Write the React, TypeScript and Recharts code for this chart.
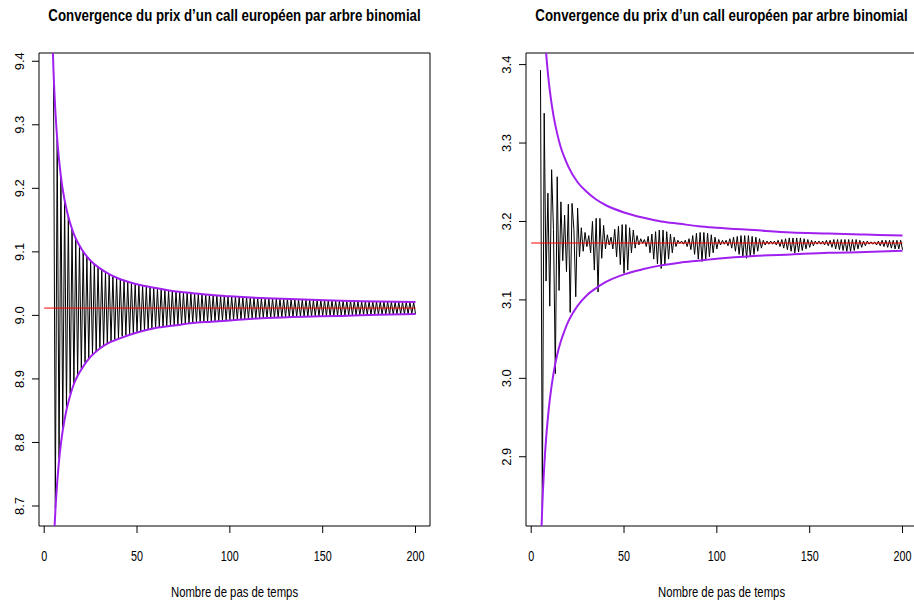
import {
  LineChart,
  Line,
  XAxis,
  YAxis,
  ReferenceArea
} from "recharts";

// N = 5 .. 200 (pas de temps)
const steps = Array.from({ length: 196 }, (_, i) => i + 5);

const leftPrices = [
  9.386, 8.697, 9.278, 8.775, 9.219, 8.823, 9.181, 8.854, 9.155, 8.877,
  9.136, 8.893, 9.121, 8.907, 9.110, 8.917, 9.100, 8.926, 9.093, 8.933,
  9.086, 8.939, 9.081, 8.944, 9.076, 8.949, 9.072, 8.952, 9.068, 8.956,
  9.065, 8.959, 9.062, 8.962, 9.059, 8.964, 9.057, 8.967, 9.055, 8.969,
  9.053, 8.970, 9.051, 8.972, 9.050, 8.974, 9.048, 8.975, 9.047, 8.977,
  9.045, 8.978, 9.044, 8.979, 9.043, 8.980, 9.042, 8.981, 9.041, 8.982,
  9.040, 8.983, 9.039, 8.984, 9.039, 8.985, 9.038, 8.985, 9.037, 8.986,
  9.036, 8.987, 9.036, 8.987, 9.035, 8.988, 9.035, 8.989, 9.034, 8.989,
  9.034, 8.990, 9.033, 8.990, 9.033, 8.991, 9.032, 8.991, 9.032, 8.991,
  9.031, 8.992, 9.031, 8.992, 9.030, 8.993, 9.030, 8.993, 9.030, 8.993,
  9.029, 8.994, 9.029, 8.994, 9.029, 8.994, 9.028, 8.995, 9.028, 8.995,
  9.028, 8.995, 9.027, 8.996, 9.027, 8.996, 9.027, 8.996, 9.027, 8.996,
  9.026, 8.997, 9.026, 8.997, 9.026, 8.997, 9.026, 8.997, 9.026, 8.997,
  9.025, 8.998, 9.025, 8.998, 9.025, 8.998, 9.025, 8.998, 9.025, 8.998,
  9.024, 8.999, 9.024, 8.999, 9.024, 8.999, 9.024, 8.999, 9.024, 8.999,
  9.024, 8.999, 9.023, 9.000, 9.023, 9.000, 9.023, 9.000, 9.023, 9.000,
  9.023, 9.000, 9.023, 9.000, 9.023, 9.000, 9.022, 9.001, 9.022, 9.001,
  9.022, 9.001, 9.022, 9.001, 9.022, 9.001, 9.022, 9.001, 9.022, 9.001,
  9.022, 9.001, 9.022, 9.001, 9.021, 9.002, 9.021, 9.002, 9.021, 9.002,
  9.021, 9.002, 9.021, 9.002, 9.021, 9.002
];

const rightPrices = [
  3.393, 2.834, 3.338, 3.124, 3.236, 3.092, 3.266, 3.190, 3.006, 3.257,
  3.112, 3.225, 3.150, 3.208, 3.136, 3.222, 3.084, 3.223, 3.190, 3.104,
  3.217, 3.155, 3.192, 3.162, 3.186, 3.168, 3.182, 3.160, 3.200, 3.138,
  3.204, 3.110, 3.204, 3.153, 3.195, 3.165, 3.183, 3.170, 3.180, 3.165,
  3.190, 3.155, 3.194, 3.145, 3.196, 3.134, 3.196, 3.138, 3.192, 3.160,
  3.189, 3.166, 3.182, 3.170, 3.178, 3.172, 3.177, 3.168, 3.181, 3.160,
  3.184, 3.152, 3.187, 3.146, 3.189, 3.140, 3.189, 3.145, 3.187, 3.152,
  3.184, 3.160, 3.180, 3.168, 3.176, 3.172, 3.175, 3.171, 3.176, 3.168,
  3.178, 3.164, 3.182, 3.158, 3.185, 3.152, 3.186, 3.149, 3.186, 3.151,
  3.185, 3.155, 3.183, 3.160, 3.180, 3.165, 3.177, 3.170, 3.176, 3.171,
  3.176, 3.169, 3.178, 3.166, 3.180, 3.162, 3.181, 3.158, 3.182, 3.155,
  3.182, 3.153, 3.182, 3.155, 3.181, 3.158, 3.180, 3.162, 3.178, 3.166,
  3.176, 3.170, 3.175, 3.171, 3.175, 3.171, 3.175, 3.170, 3.176, 3.168,
  3.177, 3.166, 3.178, 3.164, 3.179, 3.162, 3.179, 3.160, 3.179, 3.161,
  3.179, 3.163, 3.178, 3.165, 3.177, 3.167, 3.176, 3.169, 3.175, 3.171,
  3.175, 3.171, 3.175, 3.170, 3.176, 3.169, 3.176, 3.167, 3.177, 3.165,
  3.177, 3.164, 3.177, 3.163, 3.177, 3.162, 3.177, 3.162, 3.177, 3.163,
  3.177, 3.165, 3.176, 3.167, 3.175, 3.169, 3.175, 3.171, 3.174, 3.171,
  3.174, 3.170, 3.175, 3.169, 3.176, 3.168, 3.176, 3.167, 3.176, 3.166,
  3.176, 3.165, 3.176, 3.165, 3.176, 3.164
];

// bornes (courbes violettes)
const boundSteps = [
  4, 5, 6, 7, 8, 9, 10, 12, 14, 16, 18, 20, 25, 30,
  35, 40, 50, 60, 70, 80, 90, 100, 120, 140, 160, 180, 200
];

const leftUpper = [
  9.478, 9.385, 9.322, 9.278, 9.245, 9.219, 9.198, 9.167, 9.145, 9.128, 9.115, 9.105, 9.086, 9.074,
  9.065, 9.058, 9.049, 9.043, 9.038, 9.035, 9.032, 9.030, 9.027, 9.025, 9.023, 9.022, 9.021
];

const leftLower = [
  8.532, 8.628, 8.691, 8.737, 8.771, 8.798, 8.819, 8.851, 8.874, 8.892, 8.905, 8.915, 8.935, 8.948,
  8.957, 8.963, 8.973, 8.980, 8.984, 8.988, 8.990, 8.992, 8.996, 8.998, 8.999, 9.001, 9.002
];

const rightUpper = [
  3.660, 3.5625, 3.4975, 3.451, 3.416, 3.389, 3.3675, 3.335, 3.312, 3.294, 3.281, 3.270, 3.250, 3.2375,
  3.228, 3.221, 3.2115, 3.205, 3.200, 3.197, 3.194, 3.192, 3.189, 3.186, 3.1847, 3.1833, 3.182
];

const rightLower = [
  2.6725, 2.7725, 2.839, 2.887, 2.9225, 2.950, 2.9725, 3.006, 3.030, 3.0475, 3.061, 3.0725, 3.0925, 3.106,
  3.115, 3.1225, 3.1325, 3.139, 3.144, 3.1475, 3.150, 3.1525, 3.156, 3.158, 3.160, 3.161, 3.1625
];

// prix Black-Scholes (ligne rouge)
const refSteps = [0, 200];
const leftBS = 9.0115;
const rightBS = 3.1725;

const xTicks = [0, 50, 100, 150, 200];
const leftYTicks = [8.7, 8.8, 8.9, 9.0, 9.1, 9.2, 9.3, 9.4];
const rightYTicks = [2.9, 3.0, 3.1, 3.2, 3.3, 3.4];

const title = "Convergence du prix d\u2019un call européen par arbre binomial";
const xTitle = "Nombre de pas de temps";

const FONT = "'Liberation Sans', Arial, Helvetica, sans-serif";

const XDOMAIN: [number, number] = [-2.8, 207.8];

function XTick(props: any) {
  const { x, y, payload } = props;
  return (
    <text
      transform={`translate(${x},${y + 28}) scale(0.72,1)`}
      textAnchor="middle"
      fontSize={15}
      fontFamily={FONT}
      fill="#000"
    >
      {payload.value}
    </text>
  );
}

function YTick(props: any) {
  const { x, y, payload } = props;
  return (
    <text
      x={x}
      y={y}
      transform={`rotate(-90 ${x} ${y})`}
      textAnchor="middle"
      fontSize={13}
      fontFamily={FONT}
      fill="#000"
    >
      {Number(payload.value).toFixed(1)}
    </text>
  );
}

function Panel(props: any) {
  const {
    width,
    yWidth,
    marginRight,
    yDomain,
    yTicks,
    prices,
    upper,
    lower,
    bs
  } = props;

  const series = steps.map((n, i) => ({ n, v: prices[i] }));
  const up = boundSteps.map((n, i) => ({ n, v: upper[i] }));
  const low = boundSteps.map((n, i) => ({ n, v: lower[i] }));
  const ref = refSteps.map((n) => ({ n, v: bs }));

  return (
    <LineChart
      width={width}
      height={605}
      margin={{ top: 53, right: marginRight, bottom: 0, left: 0 }}
    >
      <XAxis
        type="number"
        dataKey="n"
        domain={XDOMAIN}
        ticks={xTicks}
        allowDataOverflow
        height={79}
        tickSize={7}
        tickMargin={0}
        axisLine={false}
        tickLine={{ stroke: "#000" }}
        tick={<XTick />}
        interval={0}
      />
      <YAxis
        type="number"
        dataKey="v"
        domain={yDomain}
        ticks={yTicks}
        allowDataOverflow
        width={yWidth}
        tickSize={7}
        tickMargin={8}
        axisLine={false}
        tickLine={{ stroke: "#000" }}
        tick={<YTick />}
        interval={0}
      />
      <ReferenceArea
        x1={XDOMAIN[0]}
        x2={XDOMAIN[1]}
        y1={yDomain[0]}
        y2={yDomain[1]}
        fill="none"
        stroke="#000"
        strokeWidth={1}
        ifOverflow="visible"
      />
      <Line
        data={series}
        dataKey="v"
        type="linear"
        stroke="#000"
        strokeWidth={1}
        dot={false}
        isAnimationActive={false}
      />
      <Line
        data={up}
        dataKey="v"
        type="monotone"
        stroke="#a020f0"
        strokeWidth={2}
        dot={false}
        isAnimationActive={false}
      />
      <Line
        data={low}
        dataKey="v"
        type="monotone"
        stroke="#a020f0"
        strokeWidth={2}
        dot={false}
        isAnimationActive={false}
      />
      <Line
        data={ref}
        dataKey="v"
        type="linear"
        stroke="#ff0000"
        strokeWidth={1}
        dot={false}
        isAnimationActive={false}
      />
    </LineChart>
  );
}

export default function App() {
  return (
    <div
      style={{
        position: "absolute",
        left: 0,
        top: 0,
        width: 914,
        height: 605,
        overflow: "hidden",
        background: "#fff"
      }}
    >
      <div style={{ position: "absolute", left: 0, top: 0 }}>
        <Panel
          width={457}
          yWidth={39}
          marginRight={27}
          yDomain={[8.6685, 9.413]}
          yTicks={leftYTicks}
          prices={leftPrices}
          upper={leftUpper}
          lower={leftLower}
          bs={leftBS}
        />
      </div>

      <div style={{ position: "absolute", left: 457, top: 0 }}>
        <Panel
          width={470}
          yWidth={69}
          marginRight={10}
          yDomain={[2.8117, 3.4148]}
          yTicks={rightYTicks}
          prices={rightPrices}
          upper={rightUpper}
          lower={rightLower}
          bs={rightBS}
        />
      </div>

      <svg
        width={914}
        height={605}
        style={{ position: "absolute", left: 0, top: 0, pointerEvents: "none" }}
      >
        {[234.5, 721.5].map((cx) => (
          <g key={cx}>
            <text
              transform={`translate(${cx},21) scale(0.83,1)`}
              textAnchor="middle"
              fontSize={16}
              fontWeight="bold"
              fontFamily={FONT}
              fill="#000"
            >
              {title}
            </text>
            <text
              transform={`translate(${cx},597) scale(0.755,1)`}
              textAnchor="middle"
              fontSize={15}
              fontFamily={FONT}
              fill="#000"
            >
              {xTitle}
            </text>
          </g>
        ))}
      </svg>
    </div>
  );
}
